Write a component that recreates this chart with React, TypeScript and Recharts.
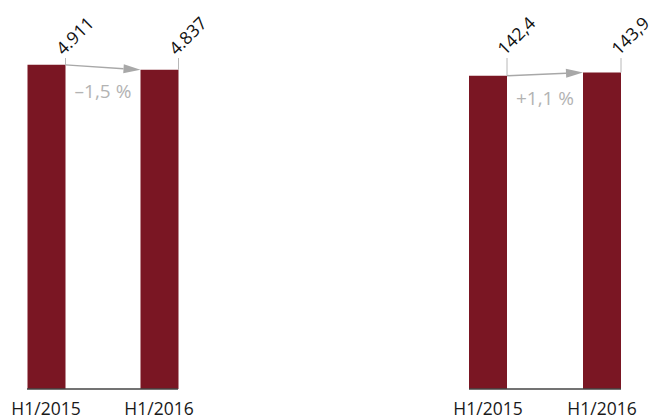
import { BarChart, Bar, XAxis, YAxis, LabelList } from 'recharts'

const periods = ['H1/2015', 'H1/2016']
const salesValues = [4911, 4837]
const salesLabels = ['4.911', '4.837']
const marginValues = [142.4, 143.9]
const marginLabels = ['142,4', '143,9']
const salesDelta = '–1,5 %'
const marginDelta = '+1,1 %'

const BAR_COLOR = '#7a1623'
const FONT = '"Open Sans", "DejaVu Sans", sans-serif'
const LABEL_TOP = 58
const BAR_SIZE = 38

interface PanelProps {
  left: number
  width: number
  plotLeft: number
  plotWidth: number
  values: number[]
  labels: string[]
  delta: string
  domainMax: number
}

function Panel({ left, width, plotLeft, plotWidth, values, labels, delta, domainMax }: PanelProps) {
  const data = periods.map((p, i) => ({ name: p, value: values[i], label: labels[i] }))
  // step between bars so that the axis line runs from first bar edge to last bar edge
  const step = plotWidth - BAR_SIZE
  const pad = -(step - BAR_SIZE) / 2

  const renderLabel = (props: any) => {
    const { x, y, width: w, height: h, index } = props
    const rx = x + w
    const tx = rx - 2
    const ty = LABEL_TOP - 2
    const items = [
      <line key="t" x1={rx} y1={LABEL_TOP} x2={rx} y2={y} stroke="#b8b8b8" strokeWidth={1} />,
      <text
        key="v"
        x={tx}
        y={ty}
        transform={`rotate(-45 ${tx} ${ty})`}
        fontSize={17.5}
        fontFamily={FONT}
        fill="#111"
      >
        {labels[index]}
      </text>,
    ]
    if (index === 0) {
      // arrow to top-left corner of the next bar
      const bottom = y + h
      const x2 = x + step
      const y2 = bottom - (h * values[1]) / values[0]
      const ang = Math.atan2(y2 - y, x2 - rx)
      const len = 17
      const hw = 4.5
      const bx = x2 - len * Math.cos(ang)
      const by = y2 - len * Math.sin(ang)
      const px = -Math.sin(ang) * hw
      const py = Math.cos(ang) * hw
      items.push(
        <line key="a" x1={rx} y1={y} x2={bx} y2={by} stroke="#a8a8a8" strokeWidth={1.5} />,
        <polygon
          key="h"
          points={`${x2},${y2} ${bx + px},${by + py} ${bx - px},${by - py}`}
          fill="#a8a8a8"
        />,
        <text
          key="d"
          x={(rx + x2) / 2}
          y={(y + y2) / 2 + 31}
          textAnchor="middle"
          fontSize={19}
          fontFamily={FONT}
          fill="#b3b3b3"
        >
          {delta}
        </text>
      )
    }
    return <g>{items}</g>
  }

  return (
    <div style={{ position: 'absolute', left, top: 0 }}>
      <BarChart
        width={width}
        height={426}
        data={data}
        margin={{ top: 59, right: width - plotLeft - plotWidth, left: plotLeft, bottom: 0 }}
        barSize={BAR_SIZE}
        style={{ overflow: 'visible' }}
      >
        <XAxis
          dataKey="name"
          height={37}
          padding={{ left: pad, right: pad }}
          axisLine={{ stroke: '#444', strokeWidth: 1.5 }}
          tickLine={false}
          tickSize={6}
          tickMargin={8}
          tick={{ fontSize: 17.5, fill: '#1a1a1a', fontFamily: FONT }}
          interval={0}
        />
        <YAxis hide domain={[0, domainMax]} allowDataOverflow />
        <Bar dataKey="value" fill={BAR_COLOR} isAnimationActive={false}>
          <LabelList dataKey="value" content={renderLabel} />
        </Bar>
      </BarChart>
    </div>
  )
}

export default function App() {
  return (
    <div style={{ position: 'absolute', left: 0, top: 0, width: 653, height: 419, background: '#fff', overflow: 'hidden' }}>
      <Panel
        left={0}
        width={240}
        plotLeft={27}
        plotWidth={151}
        values={salesValues}
        labels={salesLabels}
        delta={salesDelta}
        domainMax={5000}
      />
      <Panel
        left={440}
        width={213}
        plotLeft={29}
        plotWidth={152}
        values={marginValues}
        labels={marginLabels}
        delta={marginDelta}
        domainMax={150}
      />
    </div>
  )
}
